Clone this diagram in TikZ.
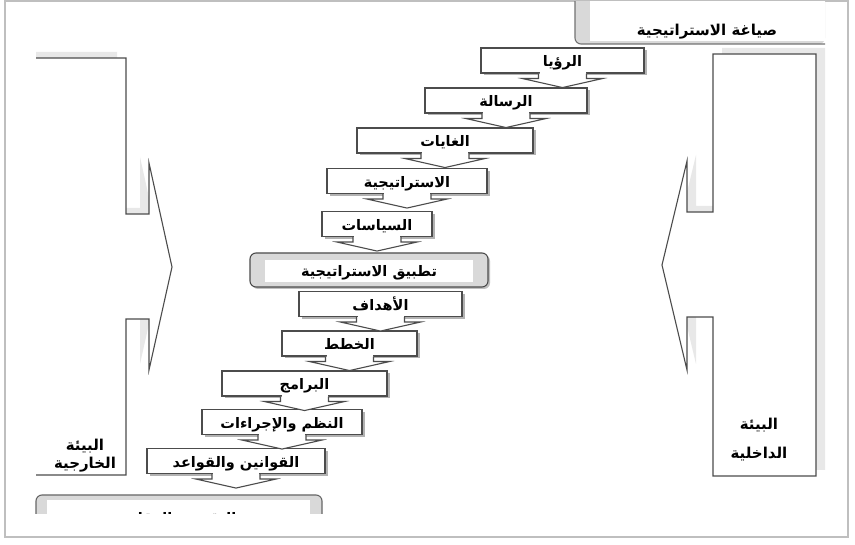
\documentclass[tikz,border=0pt]{standalone}
\usepackage{fontspec}
\newfontfamily\arabicfont[Script=Arabic]{DejaVu Sans}
\TeXXeTstate=1
\usetikzlibrary{shadows}
\newcommand\artxt[1]{{\arabicfont\bfseries\beginR #1\endR}}
% outlines of the two environment arrows
\def\extpath{(36,58) -- (126,58) -- (126,214) -- (149,214) -- (149,163) -- (172,267) -- (149,370) -- (149,319) -- (126,319) -- (126,475) -- (36,475)}
\def\intpath{(713,54) -- (816,54) -- (816,476) -- (713,476) -- (713,317) -- (687,317) -- (687,370) -- (662,265) -- (687,161) -- (687,212) -- (713,212) -- cycle}

\begin{document}
\begin{tikzpicture}[x=1pt,y=-1pt,
  line/.style={draw=black!70,line width=1.1pt},
  stepbox/.style={line,fill=white,inner sep=0pt,minimum height=25pt,
    text height=13pt,text depth=0pt,
    font=\fontsize{14.5}{16}\selectfont,
    drop shadow={shadow xshift=2.5pt,shadow yshift=-2.5pt,fill=black!30,opacity=1}},
  envtext/.style={font=\fontsize{15}{17}\selectfont,align=center}]
\useasboundingbox (0,0) rectangle (855,545);
\fill[white] (0,0) rectangle (855,545);
\draw[black!25,line width=1.5pt] (5,1) rectangle (848,537);

% formulation box, cut by the frame
\begin{scope}
  \clip (6,2) rectangle (847,536);
  \fill[black!15,rounded corners=6pt] (575,-30) rectangle (825,44);
  \fill[white] (590,-30) rectangle (825,41);
  \draw[line,black!55,rounded corners=6pt] (575,-30) -- (575,44) -- (825,44);
  \node[font=\fontsize{15}{17}\selectfont] (form) at (707,32) {\artxt{صياغة الاستراتيجية}};
\end{scope}

% external environment
\begin{scope}
  \clip (36,0) rectangle (300,545);
  \fill[black!9,xshift=-9pt,yshift=6pt] \extpath;
\end{scope}
\fill[white] \extpath;
\draw[line] \extpath;
\node[envtext] (extenv) at (85,456) {\artxt{البيئة}\\[1pt]\artxt{الخارجية}};

% internal environment
\fill[black!9,xshift=9pt,yshift=6pt] \intpath;
\filldraw[line,fill=white] \intpath;
\node[envtext] (intenv) at (759,440) {\artxt{البيئة}\\[12pt]\artxt{الداخلية}};

% steps
\foreach \x/\y/\w/\n/\txt in {
  562.5/60.5/163/vision/الرؤيا,
  506/100.5/162/mission/الرسالة,
  445/140.5/176/goals/الغايات,
  407/181/160/strategy/الاستراتيجية,
  377/224/110/policies/السياسات,
  380.5/304/163/objectives/الأهداف,
  349.5/343.5/135/plans/الخطط,
  304.5/383.5/165/programs/البرامج,
  282/422/160/systems/النظم والإجراءات,
  236/461/178/laws/القوانين والقواعد}
  \node[stepbox,minimum width=\w pt] (\n) at (\x,\y) {\artxt{\txt}};

\node[line,fill=black!15,rounded corners=6pt,minimum width=238pt,minimum height=34pt,
  drop shadow={shadow xshift=2pt,shadow yshift=-2pt,fill=black!25,opacity=1}] (apply) at (369,270) {};
\fill[white] (265,260) rectangle (473,282);
\node[font=\fontsize{14.5}{16}\selectfont,text height=13pt,text depth=0pt] (applytxt) at (apply) {\artxt{تطبيق الاستراتيجية}};

% arrows under the steps
\foreach \n in {vision,mission,goals,strategy,policies,objectives,plans,programs,systems,laws}{
  \fill[white] (\n.south) ++(-23,-1.6) rectangle ++(46,6.6);
  \filldraw[line,fill=white] (\n.south) ++(-24,0) -- ++(0,5) -- ++(-16,0) -- ++(40,9) -- ++(40,-9) -- ++(-16,0) -- ++(0,-5);
}

% evaluation box, cut at the bottom
\begin{scope}
  \clip (0,0) rectangle (855,513);
  \fill[black!15,rounded corners=6pt] (36,495) rectangle (322,560);
  \fill[white] (47,500) rectangle (310,560);
  \draw[line,black!60,rounded corners=6pt] (36,560) -- (36,495) -- (322,495) -- (322,560);
  \node[font=\fontsize{14.5}{16}\selectfont] (evaltxt) at (180,520) {\artxt{التقييم والرقابة}};
\end{scope}
\end{tikzpicture}
\end{document}
